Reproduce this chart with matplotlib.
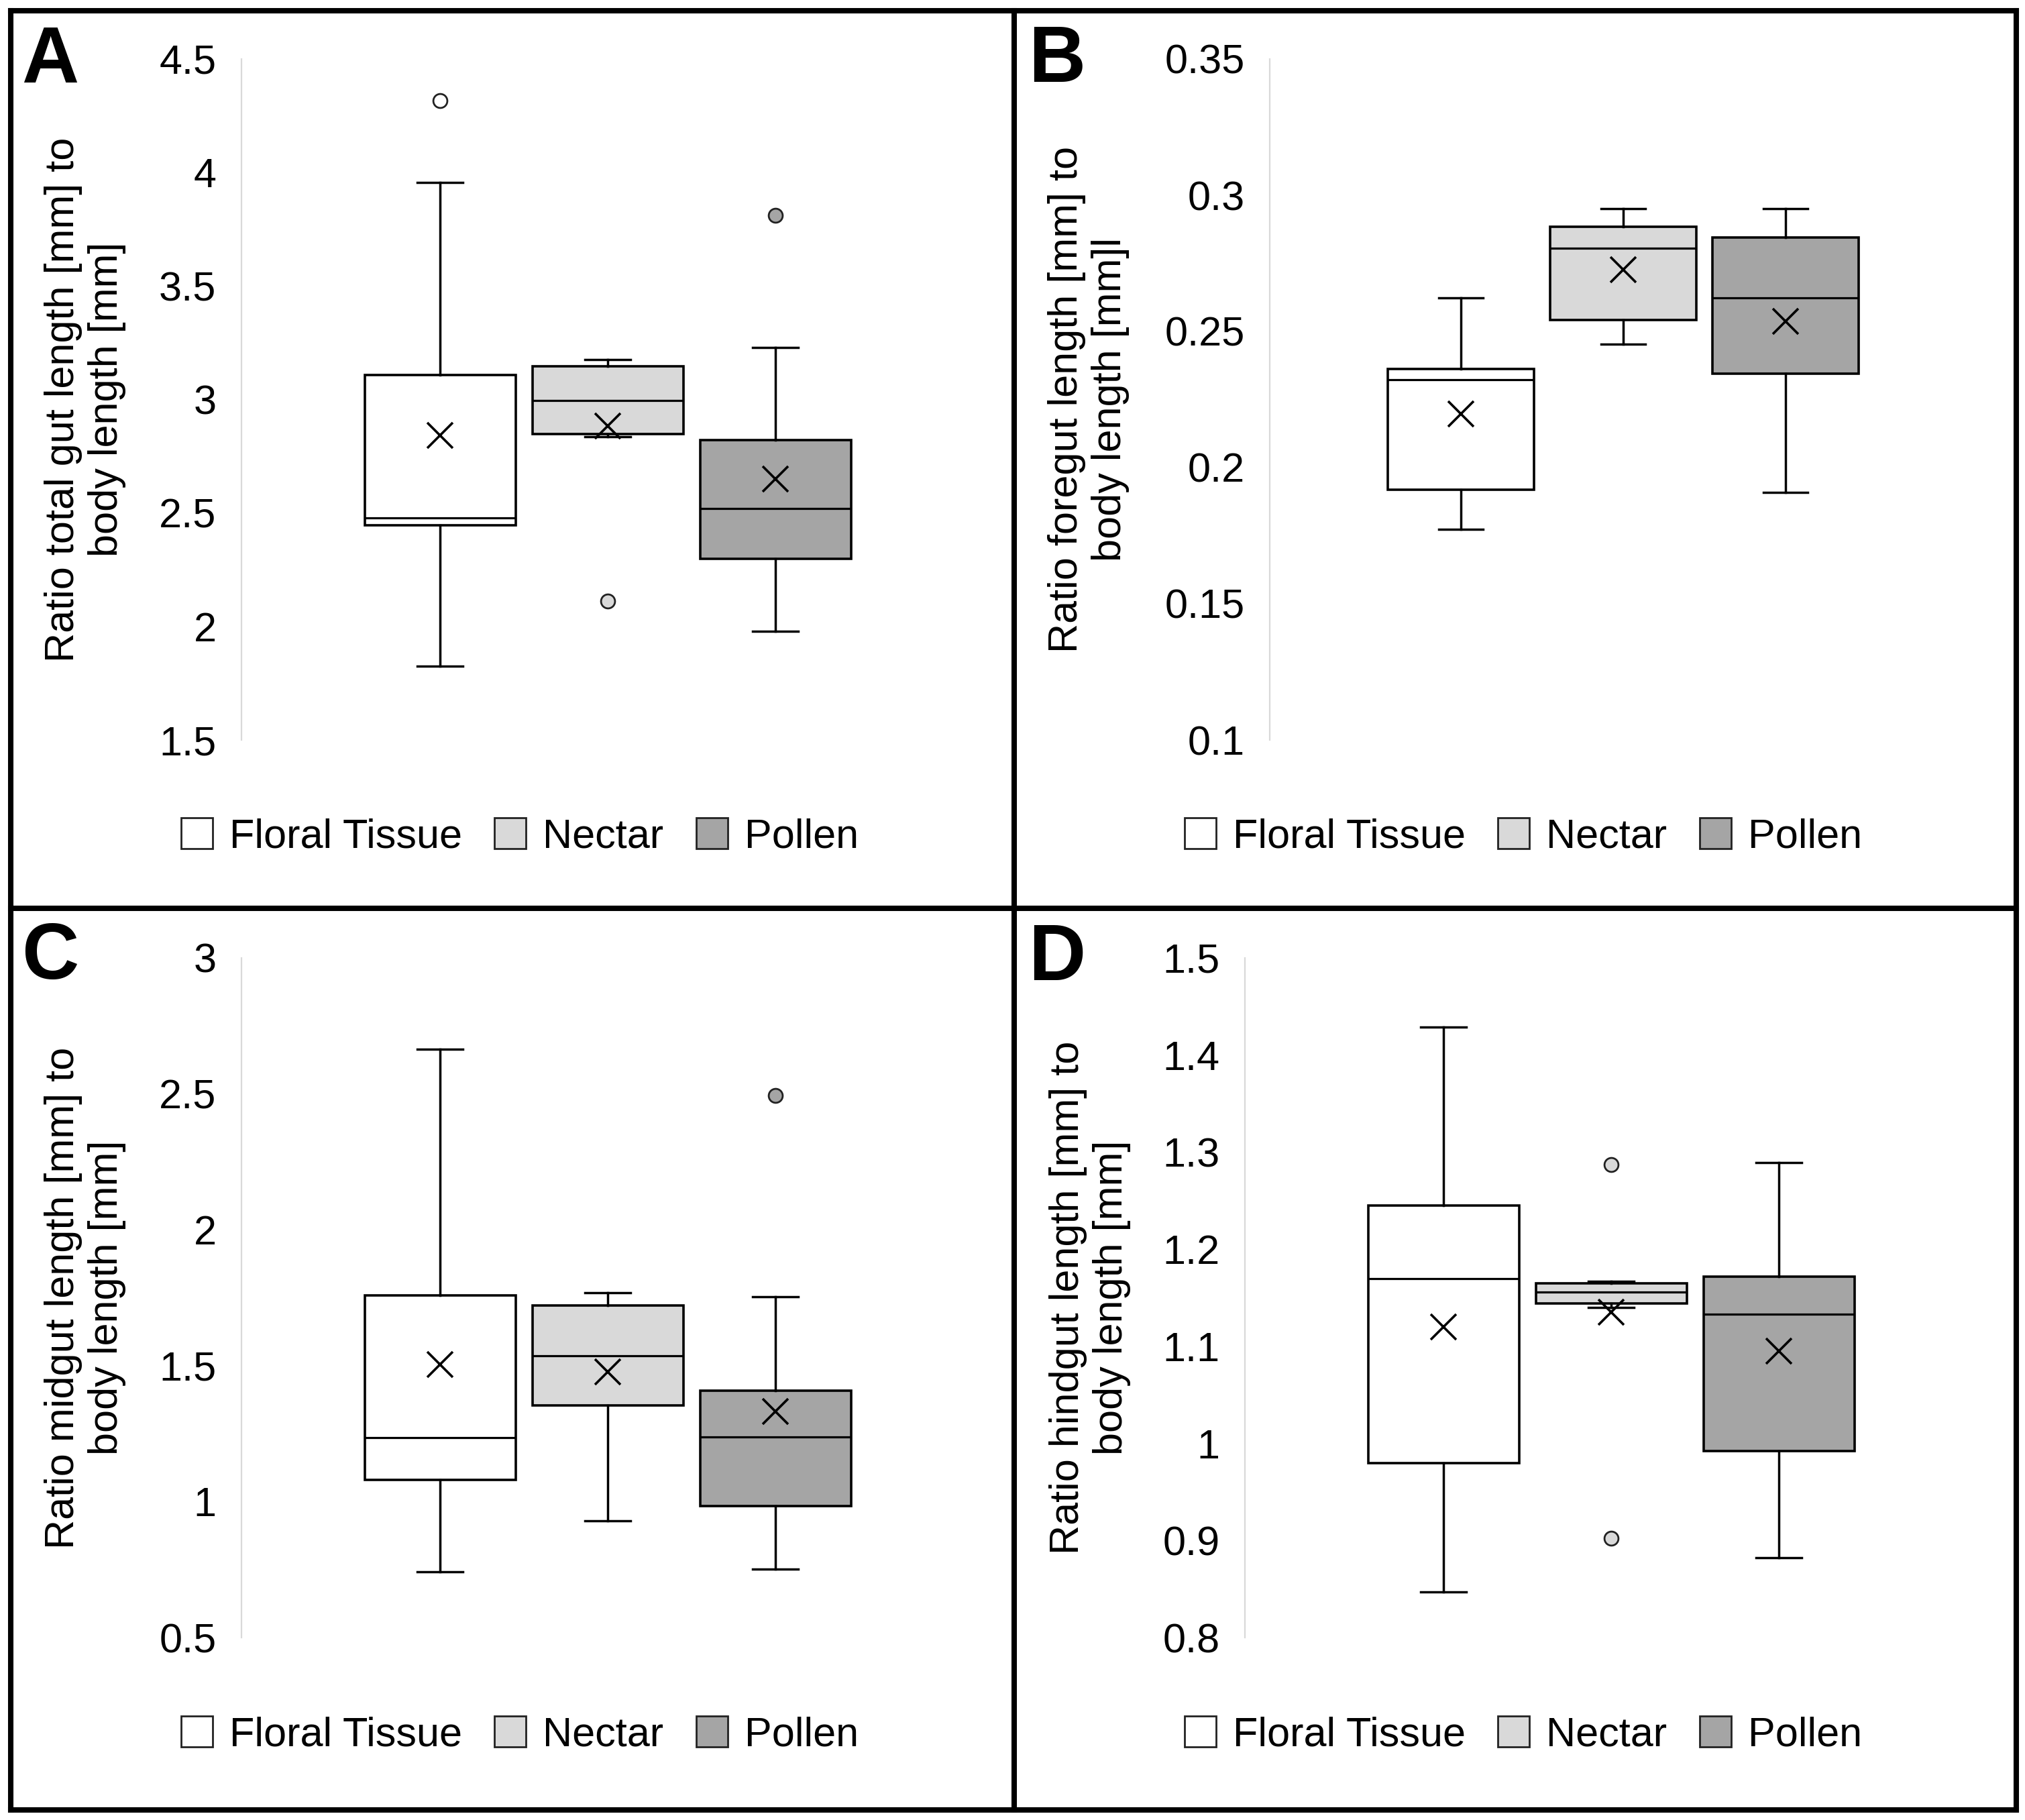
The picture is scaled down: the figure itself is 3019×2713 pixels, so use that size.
import numpy as np
import matplotlib
matplotlib.use("Agg")
import matplotlib.pyplot as plt
from matplotlib.patches import Patch
from matplotlib.lines import Line2D

plt.rcParams['font.family'] = ['Liberation Sans', 'DejaVu Sans']

groups = ["Floral Tissue", "Nectar", "Pollen"]
colors = ["#FFFFFF", "#D9D9D9", "#A5A5A5"]

# panel A - total gut
A_whislo = [1.824, 2.836, 1.978]
A_q1 = [2.445, 2.848, 2.297]
A_med = [2.478, 2.995, 2.521]
A_q3 = [3.109, 3.146, 2.820]
A_whishi = [3.956, 3.176, 3.229]
A_mean = [2.841, 2.883, 2.649]
A_fliers = [[4.316], [2.113], [3.811]]

# panel B - foregut
B_whislo = [0.1774, 0.2453, 0.1908]
B_q1 = [0.1919, 0.2543, 0.2346]
B_med = [0.2323, 0.2806, 0.2624]
B_q3 = [0.2363, 0.2885, 0.2844]
B_whishi = [0.2624, 0.2951, 0.2951]
B_mean = [0.2197, 0.2726, 0.2538]
B_fliers = [[], [], []]

# panel C - midgut
C_whislo = [0.741, 0.930, 0.751]
C_q1 = [1.080, 1.353, 0.984]
C_med = [1.235, 1.536, 1.237]
C_q3 = [1.758, 1.721, 1.409]
C_whishi = [2.665, 1.768, 1.753]
C_mean = [1.504, 1.478, 1.332]
C_fliers = [[], [], [2.493]]

# panel D - hindgut
D_whislo = [0.847, 1.140, 0.882]
D_q1 = [0.980, 1.144, 0.992]
D_med = [1.170, 1.156, 1.133]
D_q3 = [1.245, 1.165, 1.172]
D_whishi = [1.429, 1.167, 1.289]
D_mean = [1.120, 1.135, 1.095]
D_fliers = [[], [1.287, 0.902], []]

W, H = 3019, 2713
FS = 44

fig = plt.figure(figsize=(W / 100, H / 100), dpi=100)


def px_rect(x0, y0, x1, y1):
    # pixel box (top-left origin) -> figure fraction rect
    return [x0 / W, 1 - y1 / H, (x1 - x0) / W, (y1 - y0) / H]


def panel(rect, spacing, ylim, yticks, whislo, q1, med, q3, whishi, mean, fliers,
          ylabel, label_x, letter, letter_xy, legend_xy):
    x0, y0, x1, y1 = rect
    ax = fig.add_axes(px_rect(x0, y0, x1, y1))
    # three series centered in one category
    half = (x1 - x0) / 2 / spacing
    ax.set_xlim(1 - half, 1 + half)
    ax.set_ylim(*ylim)

    stats = []
    for i in range(3):
        stats.append(dict(whislo=whislo[i], q1=q1[i], med=med[i], q3=q3[i],
                          whishi=whishi[i], mean=mean[i], fliers=fliers[i]))
    for i in range(3):
        ax.bxp([stats[i]], positions=[i], widths=0.9, capwidths=0.27,
               patch_artist=True, showmeans=True, showfliers=True,
               boxprops=dict(facecolor=colors[i], edgecolor='black', linewidth=2.6),
               medianprops=dict(color='black', linewidth=2.3),
               whiskerprops=dict(color='black', linewidth=2.5),
               capprops=dict(color='black', linewidth=2.5),
               meanprops=dict(marker='x', markersize=28, markeredgecolor='black',
                              markeredgewidth=2.6),
               flierprops=dict(marker='o', markersize=15, markerfacecolor=colors[i],
                               markeredgecolor='#222222', markeredgewidth=2.0),
               manage_ticks=False)

    for s in ['top', 'right', 'bottom']:
        ax.spines[s].set_visible(False)
    ax.spines['left'].set_color('#D9D9D9')
    ax.spines['left'].set_linewidth(1.6)
    ax.set_xticks([])
    ax.set_yticks(yticks)
    ax.set_yticklabels(['{:g}'.format(round(t, 3)) for t in yticks])
    ax.tick_params(axis='y', length=0, pad=27, labelsize=FS, labelcolor='black')

    cy = 1 - (y0 + y1) / 2 / H
    fig.text(label_x / W, cy, ylabel, rotation=90, ha='center', va='center',
             fontsize=FS, multialignment='center')
    fig.text(letter_xy[0] / W, 1 - letter_xy[1] / H, letter, fontsize=85,
             fontweight='bold', ha='left', va='baseline')

    handles = [Patch(facecolor=c, edgecolor='#222222', linewidth=2.0) for c in colors]
    ax.legend(handles, groups, loc='center', ncol=3, frameon=False, fontsize=FS,
              bbox_to_anchor=(legend_xy[0] / W, 1 - legend_xy[1] / H),
              bbox_transform=fig.transFigure, handlelength=0.77, handleheight=0.77,
              handletextpad=0.41, columnspacing=0.79, borderpad=0, borderaxespad=0)
    return ax


panel((360, 88, 1452, 1103), 250, (1.5, 4.5), np.linspace(1.5, 4.5, 7),
      A_whislo, A_q1, A_med, A_q3, A_whishi, A_mean, A_fliers,
      "Ratio total gut length [mm] to\nbody length [mm]", 127, "A", (32, 123), (775, 1248))
panel((1893, 88, 2947, 1103), 242, (0.1, 0.35), np.linspace(0.1, 0.35, 6),
      B_whislo, B_q1, B_med, B_q3, B_whishi, B_mean, B_fliers,
      "Ratio foregut length [mm] to\nbody length [mm]l", 1623, "B", (1533, 122), (2271, 1248))
panel((360, 1428, 1452, 2441), 250, (0.5, 3.0), np.linspace(0.5, 3.0, 6),
      C_whislo, C_q1, C_med, C_q3, C_whishi, C_mean, C_fliers,
      "Ratio midgut length [mm] to\nbody length [mm]", 127, "C", (32, 1459), (775, 2587))
panel((1856, 1428, 2948, 2441), 250, (0.8, 1.5), np.linspace(0.8, 1.5, 8),
      D_whislo, D_q1, D_med, D_q3, D_whishi, D_mean, D_fliers,
      "Ratio hindgut length [mm] to\nbody length [mm]", 1625, "D", (1533, 1461), (2271, 2587))

# panel frame lines
bw = 5.8
for x in (16, 1512, 3006):
    fig.add_artist(Line2D([x / W, x / W], [1 - 16 / H, 1 - 2698 / H], color='black',
                          linewidth=bw, solid_capstyle='projecting'))
for y in (16, 1354, 2698):
    fig.add_artist(Line2D([16 / W, 3006 / W], [1 - y / H, 1 - y / H], color='black',
                          linewidth=bw, solid_capstyle='projecting'))

fig.savefig("out.png", dpi=100, facecolor='white')
